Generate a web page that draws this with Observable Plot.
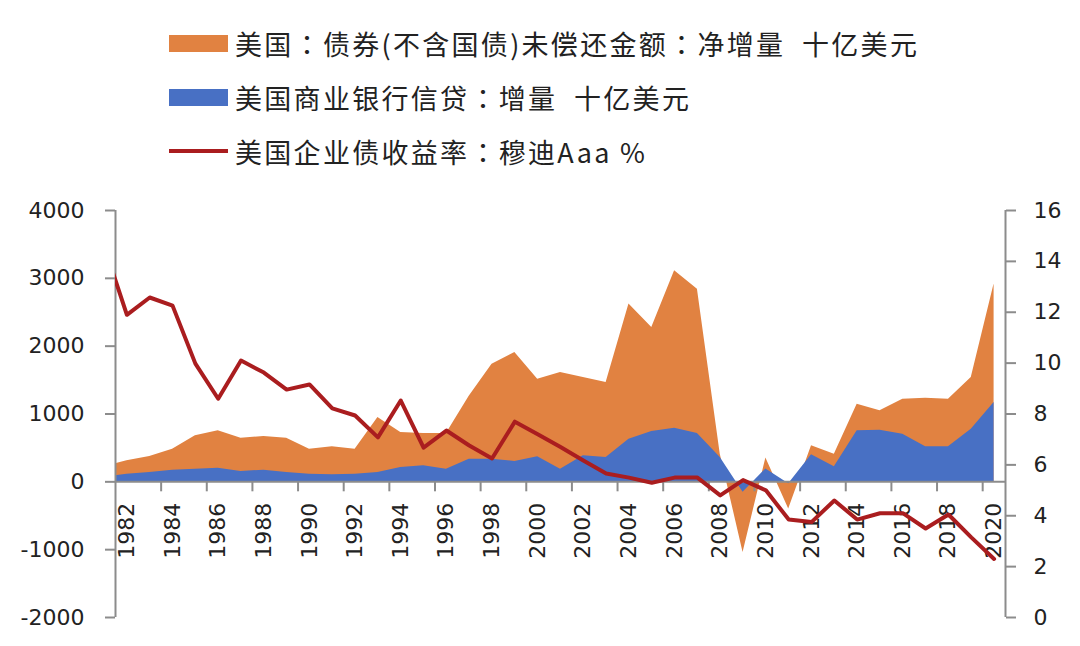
<!DOCTYPE html>
<html><head><meta charset="utf-8">
<script src="https://cdn.jsdelivr.net/npm/d3@7"></script>
<script src="https://cdn.jsdelivr.net/npm/@observablehq/plot@0.6"></script>
<style>
body{margin:0;background:#fff;width:1080px;height:646px;overflow:hidden;}
#legend{position:relative;height:185px;width:1080px;font-family:"Noto Sans CJK SC","Noto Sans",sans-serif;font-size:27px;color:#222;letter-spacing:2.3px}
.item{position:absolute;left:169px;display:flex;align-items:center;height:34px;white-space:pre}
.sw{width:59px;height:17px;margin-right:7px}
.ln{width:59px;height:4px;margin-right:7px}
.colon{font-family:"Noto Sans CJK TC","Noto Sans CJK SC",sans-serif}
#chart svg{display:block}
</style></head><body>
<div id="legend"></div>
<div id="chart"></div>
<script>
// ---- data ----
const years = [1981,1982,1983,1984,1985,1986,1987,1988,1989,1990,1991,1992,1993,1994,1995,1996,1997,1998,1999,2000,2001,2002,2003,2004,2005,2006,2007,2008,2009,2010,2011,2012,2013,2014,2015,2016,2017,2018,2019,2020];
// 美国：债券(不含国债)未偿还金额：净增量 十亿美元
const bondNetIncrease = [220,310,373,482,678,752,644,668,644,482,516,482,948,727,713,712,1260,1735,1906,1514,1612,1538,1464,2620,2275,3110,2840,408,-1040,350,-400,531,408,1145,1047,1219,1233,1219,1538,2915];
// 美国商业银行信贷：增量 十亿美元
const bankCreditIncrease = [63,113,138,172,187,201,152,172,138,113,103,113,138,211,236,187,334,334,300,369,187,383,358,629,742,791,713,358,-155,190,-30,400,221,752,762,703,516,516,777,1170];
// 美国企业债收益率：穆迪Aaa %
const aaaYield = [14.6,11.9,12.58,12.26,9.98,8.6,10.1,9.63,8.96,9.16,8.22,7.94,7.08,8.53,6.68,7.35,6.76,6.25,7.7,7.2,6.7,6.17,5.66,5.5,5.3,5.5,5.5,4.8,5.4,5.0,3.85,3.75,4.6,3.85,4.1,4.1,3.5,4.05,3.15,2.3];
const yearLabels = [1982,1984,1986,1988,1990,1992,1994,1996,1998,2000,2002,2004,2006,2008,2010,2012,2014,2016,2018,2020];
const leftTicks = [-2000,-1000,0,1000,2000,3000,4000];
const rightTicks = [0,2,4,6,8,10,12,14,16];
const legendLabels = ["美国：债券(不含国债)未偿还金额：净增量  十亿美元","美国商业银行信贷：增量  十亿美元","美国企业债收益率：穆迪Aaa %"];

const ORANGE = "#E18241", BLUE = "#4870C4", RED = "#AA1D1F", AXIS = "#8c8c8c";
const xDomain = [1981.5, 2020.5];
const yDomain = [-2000, 4000];
const rMax = 16;
const toLeft = r => yDomain[0] + r * (yDomain[1] - yDomain[0]) / rMax;
const xTicks = d3.range(xDomain[0] + 2, xDomain[1], 2);

// ---- legend ----
const legend = document.getElementById("legend");
const kinds = [["sw", ORANGE], ["sw", BLUE], ["ln", RED]];
legendLabels.forEach((t, i) => {
  const it = document.createElement("div");
  it.className = "item";
  it.style.top = (26 + i * 54) + "px";
  const s = document.createElement("div");
  s.className = kinds[i][0];
  s.style.background = kinds[i][1];
  const sp = document.createElement("span");
  t.split("：").forEach((part, j) => {
    if (j > 0) {
      const c = document.createElement("span");
      c.className = "colon";
      c.textContent = "：";
      sp.appendChild(c);
    }
    sp.appendChild(document.createTextNode(part));
  });
  it.appendChild(s); it.appendChild(sp);
  legend.appendChild(it);
});

// ---- chart ----
const data = years.map((y, i) => ({year: y, bond: bondNetIncrease[i], bank: bankCreditIncrease[i], yld: aaaYield[i]}));
const plot = Plot.plot({
  width: 1080, height: 461,
  marginTop: 25, marginBottom: 29, marginLeft: 115, marginRight: 75,
  x: {domain: xDomain, axis: null},
  y: {domain: yDomain, axis: null},
  style: {fontFamily: "DejaVu Sans", fontSize: "22px", color: "#222", background: "#fff"},
  marks: [
    Plot.areaY(data, {x: "year", y: "bond", fill: ORANGE, clip: true}),
    Plot.areaY(data, {x: "year", y: "bank", fill: BLUE, clip: true}),
    Plot.text(yearLabels, {x: d => d, y: -310, text: d => String(d), rotate: -90, textAnchor: "end", fontSize: 22, fill: "#222"}),
    Plot.ruleY([0], {stroke: AXIS, strokeWidth: 2}),
    Plot.ruleX(xTicks, {x: d => d, y1: 0, y2: -147, stroke: AXIS, strokeWidth: 2}),
    Plot.ruleX(xDomain, {x: d => d, y1: yDomain[0], y2: yDomain[1], stroke: AXIS, strokeWidth: 2}),
    Plot.axisY(leftTicks, {anchor: "left", tickSize: 10, tickPadding: 21, stroke: AXIS, strokeWidth: 2, fontSize: 22, fill: "#222", tickFormat: d => String(d)}),
    Plot.axisY(rightTicks.map(toLeft), {anchor: "right", tickSize: 10, tickPadding: 18, stroke: AXIS, strokeWidth: 2, fontSize: 22, fill: "#222", tickFormat: v => String(Math.round((v - yDomain[0]) * rMax / (yDomain[1] - yDomain[0])))}),
    Plot.line(data, {x: "year", y: d => toLeft(d.yld), stroke: RED, strokeWidth: 4, clip: true})
  ]
});
document.getElementById("chart").appendChild(plot);
</script>
</body></html>
